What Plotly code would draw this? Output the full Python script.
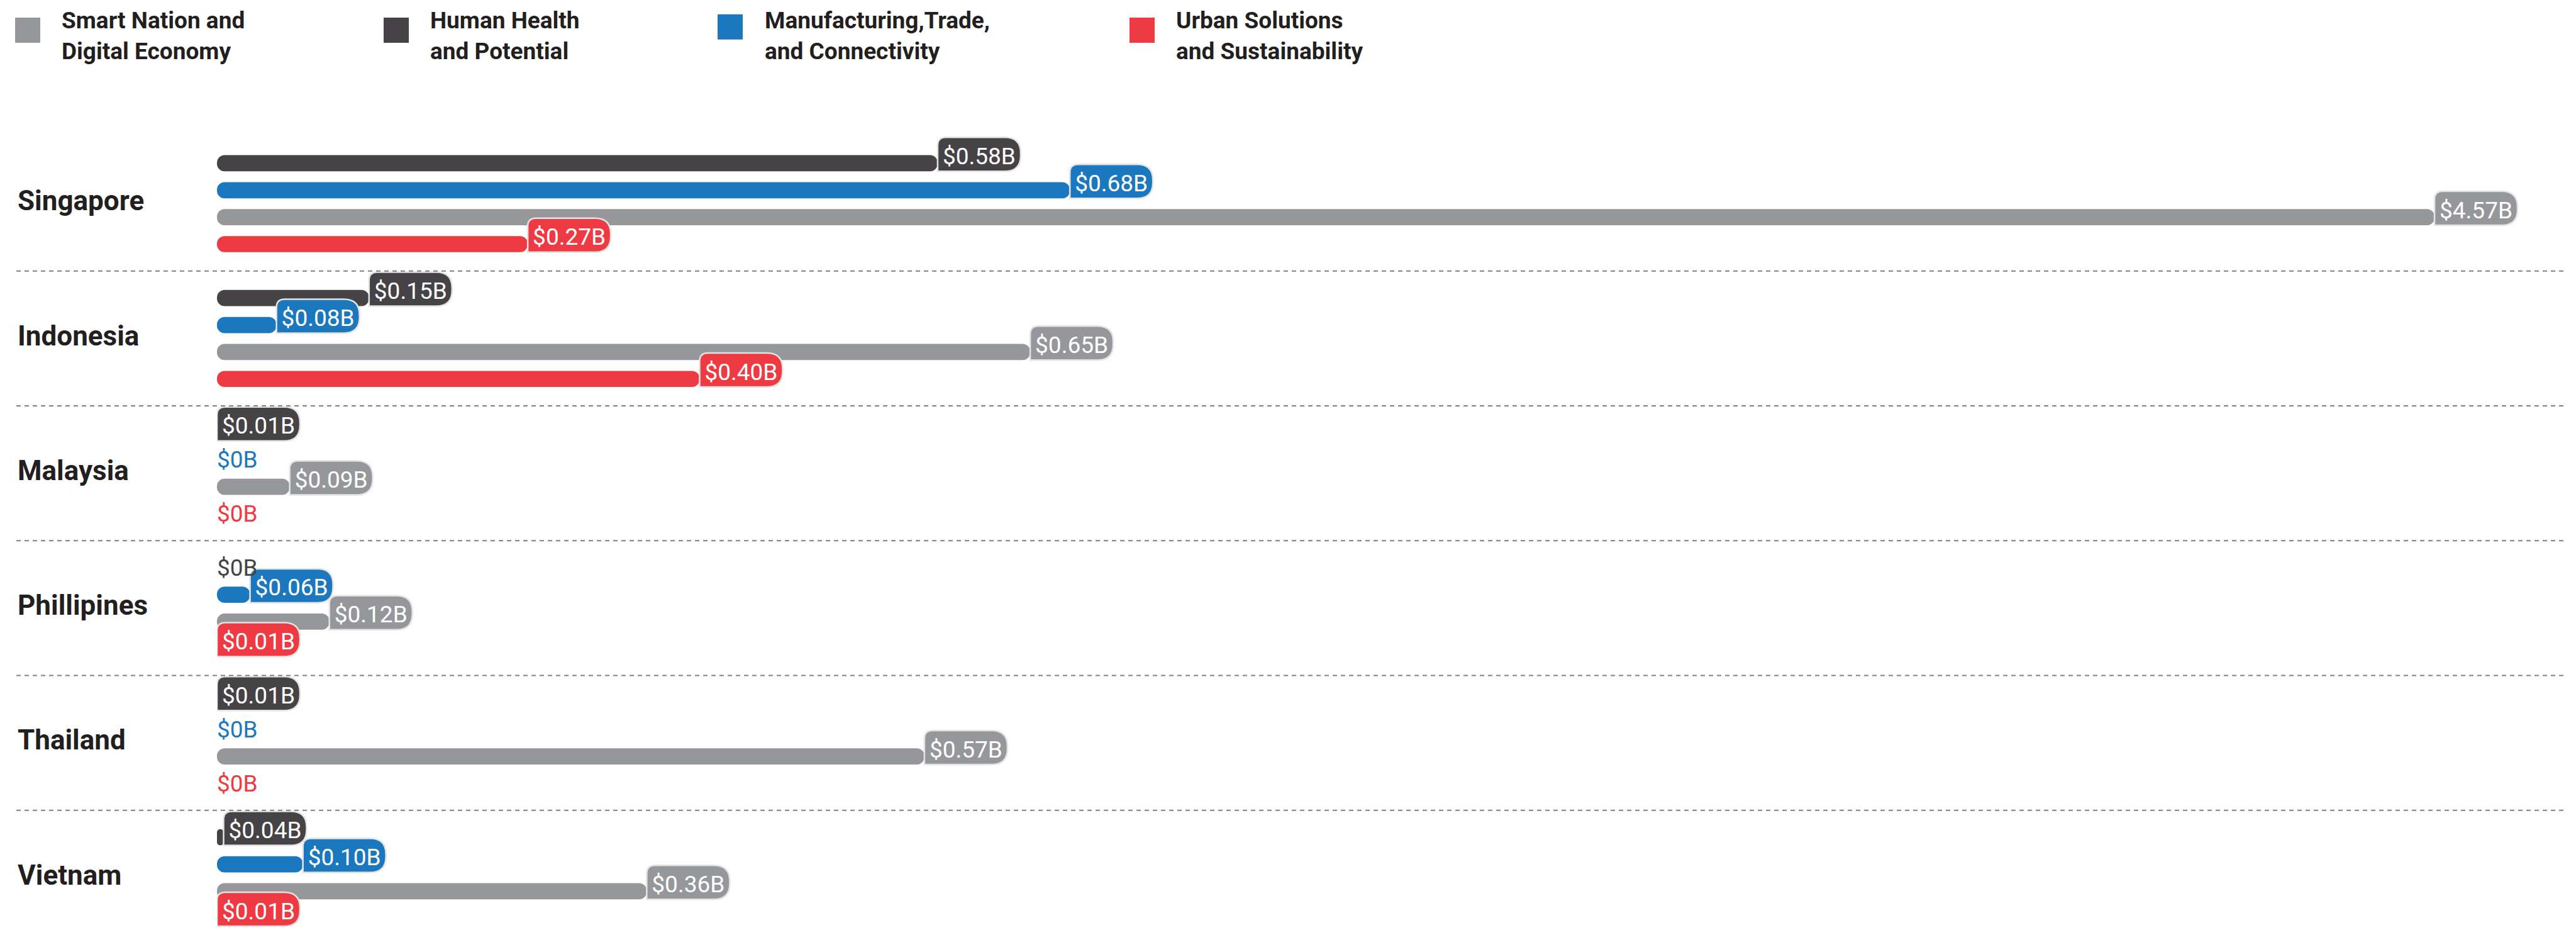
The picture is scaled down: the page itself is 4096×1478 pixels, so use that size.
import plotly.graph_objects as go

# ---------------- data ----------------
countries = ["Singapore", "Indonesia", "Malaysia", "Phillipines", "Thailand", "Vietnam"]

# series in the order the bars appear inside each country group (top -> bottom)
human_health = [0.58, 0.15, 0.01, 0.00, 0.01, 0.04]
manufacturing = [0.68, 0.08, 0.00, 0.06, 0.00, 0.10]
smart_nation = [4.57, 0.65, 0.09, 0.12, 0.57, 0.36]
urban = [0.27, 0.40, 0.00, 0.01, 0.00, 0.01]

legend_order = ["smart", "human", "manuf", "urban"]
legend_lines = {
    "smart": ["Smart Nation and", "Digital Economy"],
    "human": ["Human Health", "and Potential"],
    "manuf": ["Manufacturing,Trade,", "and Connectivity"],
    "urban": ["Urban Solutions", "and Sustainability"],
}

# ---------------- style ----------------
COLORS = {"human": "#454346", "manuf": "#1c78be", "smart": "#96979b", "urban": "#ee3a43"}
series = [("human", human_health), ("manuf", manufacturing), ("smart", smart_nation), ("urban", urban)]

W_FIG, H_FIG = 4096, 1478
PLOT_LEFT = 345          # px where bars start
SLOT = 42.85             # px per bar slot
SLOT0_PX = 216.6         # px of slot 0
X_MIN, X_MAX = 0.035, 1.819
X_CAP = 1.712            # longer bars are truncated here
BAR_W = 0.6              # bar thickness in slot units
BAR_HALF_PX = BAR_W * SLOT / 2
BOX_W, BOX_H, R1, R2 = 132, 54, 13, 25
FONT = "Roboto, Liberation Sans, sans-serif"
TEXT_DARK = "#231f20"

y_top = -SLOT0_PX / SLOT
y_bottom = (H_FIG - SLOT0_PX) / SLOT


def tab_path(w, h, yb, r1, r2):
    yt = yb + h
    return (f"M0,{yb} L0,{yt - r1} Q0,{yt} {r1},{yt} L{w - r2},{yt} "
            f"Q{w},{yt} {w},{yt - r2} L{w},{yb + r2} Q{w},{yb} {w - r2},{yb} Z")


fig = go.Figure()

# bars (drawn from value back to the axis start so the rounded end sits at the start)
for si, (key, vals) in enumerate(series):
    ys = [g * 5 + si + 1 for g in range(len(countries))]
    shown = [min(v, X_CAP) for v in vals]
    fig.add_bar(
        orientation="h", y=ys, base=shown, x=[X_MIN - s for s in shown],
        width=BAR_W, marker=dict(color=COLORS[key], cornerradius="50%", line_width=0),
        hoverinfo="skip", showlegend=False, cliponaxis=True,
    )

shapes = []
annotations = []

# value tabs
for g in range(len(countries)):
    for si, (key, vals) in enumerate(series):
        v = vals[g]
        y = g * 5 + si + 1
        if v == 0:
            annotations.append(dict(
                x=X_MIN, y=y, xref="x", yref="y", text="$0B", showarrow=False,
                xanchor="left", yanchor="middle", xshift=-2,
                font=dict(family=FONT, size=37, color=COLORS[key]),
            ))
            continue
        anchor = max(min(v, X_CAP), X_MIN)
        shapes.append(dict(
            type="path", xref="x", yref="y", xsizemode="pixel", ysizemode="pixel",
            xanchor=anchor, yanchor=y,
            path=tab_path(BOX_W, BOX_H, -BAR_HALF_PX, R1, R2),
            fillcolor=COLORS[key], line=dict(color="#e4e4e4", width=2.5), layer="above",
            label=dict(text=f"${v:.2f}B", textposition="middle center",
                       font=dict(family=FONT, size=37, color="white")),
        ))

# dashed separators
for g in range(1, len(countries)):
    shapes.append(dict(
        type="line", xref="paper", yref="y", x0=26 / W_FIG, x1=4079 / W_FIG,
        y0=g * 5, y1=g * 5, line=dict(color="#808080", width=2, dash="7px,6px"), layer="above",
    ))

# country labels
for g, c in enumerate(countries):
    annotations.append(dict(
        x=26 / W_FIG, y=g * 5 + 2.4, xref="paper", yref="y", text=c, showarrow=False,
        xanchor="left", yanchor="middle",
        font=dict(family=FONT, size=44, color=TEXT_DARK, weight="bold"),
    ))

# legend
LEG_SQ_X = {"smart": 24, "human": 610, "manuf": 1141, "urban": 1796}
LEG_TX_X = {"smart": 96, "human": 682, "manuf": 1214, "urban": 1868}
for key in legend_order:
    sq_top = 22.7 if key == "manuf" else 27.9
    shapes.append(dict(
        type="rect", xref="paper", yref="paper",
        x0=LEG_SQ_X[key] / W_FIG, x1=(LEG_SQ_X[key] + 40) / W_FIG,
        y0=1 - sq_top / H_FIG, y1=1 - (sq_top + 40) / H_FIG,
        fillcolor=COLORS[key], line_width=0,
    ))
    for li, line in enumerate(legend_lines[key]):
        cy = 33 + li * 49
        annotations.append(dict(
            x=LEG_TX_X[key] / W_FIG, y=1 - cy / H_FIG, xref="paper", yref="paper",
            text=line, showarrow=False, xanchor="left", yanchor="middle",
            font=dict(family=FONT, size=37, color=TEXT_DARK, weight="bold"),
        ))

fig.update_layout(
    width=W_FIG, height=H_FIG,
    margin=dict(l=0, r=0, t=0, b=0),
    paper_bgcolor="white", plot_bgcolor="white",
    barmode="overlay",
    xaxis=dict(domain=[PLOT_LEFT / W_FIG, 1], range=[X_MIN, X_MAX], visible=False, fixedrange=True),
    yaxis=dict(range=[y_bottom, y_top], visible=False, fixedrange=True),
    shapes=shapes, annotations=annotations,
    showlegend=False,
)

fig.write_html("out.html")
